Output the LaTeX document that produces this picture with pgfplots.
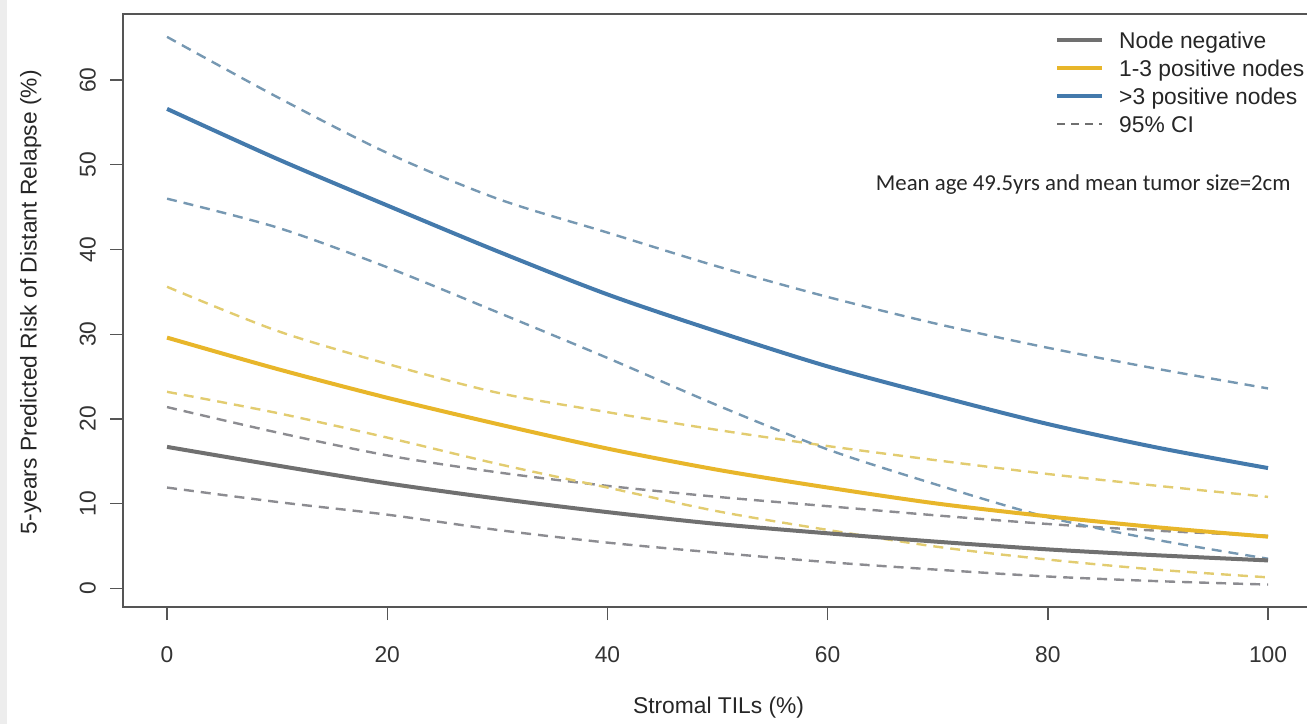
\documentclass[border=0pt]{standalone}
\usepackage{fontspec}
\setmainfont{Liberation Sans}
\newfontfamily\carlito{Carlito}
\usepackage{pgfplots}
\pgfplotsset{compat=1.18}
\usepackage{pgfplotstable}

\definecolor{NegGray}{RGB}{112,112,112}
\definecolor{MidGold}{RGB}{232,182,42}
\definecolor{HighBlue}{RGB}{68,122,172}
\definecolor{NegGrayCI}{RGB}{140,140,145}
\definecolor{MidGoldCI}{RGB}{226,204,112}
\definecolor{HighBlueCI}{RGB}{118,152,178}
\definecolor{BoxGray}{RGB}{85,85,85}

% columns: TILs, estimate, upper CI, lower CI
\pgfplotstableread{
t   est   up    lo
0   16.7  21.4  11.9
10  14.5  18.4  10.2
20  12.4  15.7  8.7
30  10.6  13.7  6.9
40  9.0   12.1  5.4
50  7.6   10.8  4.2
60  6.5   9.7   3.1
70  5.5   8.6   2.2
80  4.6   7.6   1.4
90  3.9   6.8   0.85
100 3.3   6.2   0.45
}\nodeneg

\pgfplotstableread{
t   est   up    lo
0   29.6  35.6  23.2
10  25.9  30.4  20.7
20  22.5  26.5  17.8
30  19.4  23.1  14.7
40  16.5  20.8  11.9
50  14.0  18.7  9.1
60  11.9  16.8  6.9
70  10.0  15.1  4.9
80  8.5   13.5  3.4
90  7.2   12.1  2.2
100 6.1   10.8  1.3
}\nodemid

\pgfplotstableread{
t   est   up    lo
0   56.6  65.1  46.0
10  50.7  58.0  42.6
20  45.2  51.4  37.9
30  39.8  46.0  32.6
40  34.7  42.0  27.2
50  30.3  38.0  21.6
60  26.2  34.4  16.4
70  22.7  31.2  12.2
80  19.4  28.4  8.4
90  16.6  25.9  5.7
100 14.2  23.6  3.5
}\nodehigh

\begin{document}
\begin{tikzpicture}
\useasboundingbox (0,0) rectangle (653.5pt,362pt);
\fill[black!7] (0,0) rectangle (3.5pt,362pt);
\begin{axis}[
    at={(61.5pt,58.5pt)}, anchor=south west,
    scale only axis,
    width=592pt, height=296.5pt,
    xmin=-4, xmax=103.54,
    ymin=-2.2, ymax=67.8,
    xtick={0,20,...,100},
    ytick={0,10,...,60},
    tick pos=left,
    tick align=outside,
    major tick length=6.5pt,
    tick style={BoxGray, line width=0.7pt},
    axis line style={draw=none},
    clip=false,
    font=\fontsize{11.4}{13.7}\selectfont,
    /pgf/number format/assume math mode=true,
    xticklabel style={anchor=north, yshift=-10pt, text=black!80},
    yticklabel style={rotate=90, anchor=south, yshift=3.5pt, text=black!80},
    xlabel={Stromal TILs (\%)},
    ylabel={5-years Predicted Risk of Distant Relapse (\%)},
    x label style={at={(axis description cs:0.503,0)}, anchor=center, yshift=-50.5pt, text=black!85},
    y label style={at={(axis description cs:-0.078,0.514)}, anchor=center, text=black!85},
    legend style={at={(axis description cs:0.787,0.970)}, anchor=north west,
        draw=none, fill=none, inner sep=0pt, column sep=7.5pt,
        font=\fontsize{11.4}{13.7}\selectfont,
        nodes={inner sep=0pt, text height=8.4pt, text depth=5.6pt, text=black!85}},
    legend cell align=left,
    legend image code/.code={\draw[#1] (0pt,3pt) -- (22.5pt,3pt);},
]
\addlegendimage{NegGray, line width=2pt}
\addlegendentry{Node negative}
\addlegendimage{MidGold, line width=2pt}
\addlegendentry{1-3 positive nodes}
\addlegendimage{HighBlue, line width=2pt}
\addlegendentry{>3 positive nodes}
\addlegendimage{NegGray, line width=1.1pt, dash pattern=on 4pt off 3pt}
\addlegendentry{95\% CI}

\pgfplotsset{ci/.style={line width=1.2pt, dash pattern=on 5pt off 3.5pt, smooth, forget plot},
             est/.style={line width=2pt, smooth, forget plot}}

\addplot[ci, NegGrayCI] table[x=t,y=up] {\nodeneg};
\addplot[ci, NegGrayCI] table[x=t,y=lo] {\nodeneg};
\addplot[ci, MidGoldCI] table[x=t,y=up] {\nodemid};
\addplot[ci, MidGoldCI] table[x=t,y=lo] {\nodemid};
\addplot[ci, HighBlueCI] table[x=t,y=up] {\nodehigh};
\addplot[ci, HighBlueCI] table[x=t,y=lo] {\nodehigh};

\addplot[est, NegGray] table[x=t,y=est] {\nodeneg};
\addplot[est, MidGold] table[x=t,y=est] {\nodemid};
\addplot[est, HighBlue] table[x=t,y=est] {\nodehigh};

\draw[BoxGray, line width=1pt] (rel axis cs:1.02,0) -- (rel axis cs:0,0) -- (rel axis cs:0,1) -- (rel axis cs:1.02,1);

\node[font=\carlito\fontsize{11.4}{13.7}\selectfont, text=black!85] at (axis description cs:0.811,0.712) {Mean age 49.5yrs and mean tumor size=2cm};
\end{axis}
\end{tikzpicture}
\end{document}
